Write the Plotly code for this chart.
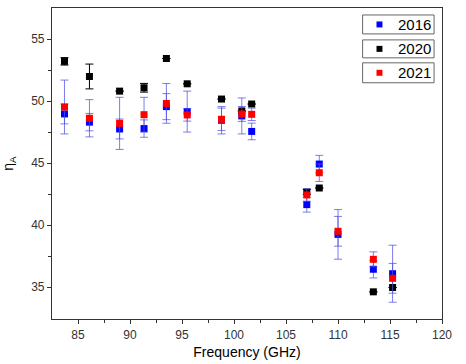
import plotly.graph_objects as go

freq_2016 = [83.7, 86.1, 89.0, 91.35, 93.5, 95.5, 98.8, 100.75, 101.7, 107.0, 108.2, 110.0, 113.4, 115.25]
eta_2016 = [48.96, 48.3, 47.75, 47.78, 49.55, 49.15, 48.45, 48.8, 47.55, 41.65, 44.92, 39.25, 36.44, 36.08]
err_2016 = [0.8, 0.7, 0.8, 0.7, 1.05, 1.65, 1.1, 1.45, 0.67, 0.6, 0.7, 2.0, 0.7, 2.3]

freq_2020 = [83.7, 86.1, 89.0, 91.35, 93.5, 95.5, 98.8, 100.75, 101.7, 107.0, 108.2, 113.4, 115.25]
eta_2020 = [53.2, 51.98, 50.8, 51.07, 53.43, 51.39, 50.16, 49.2, 49.76, 42.67, 42.99, 34.62, 34.97]
err_2020 = [0.3, 1.0, 0.0, 0.35, 0.0, 0.0, 0.0, 0.0, 0.0, 0.2, 0.0, 0.0, 0.0]

freq_2021 = [83.7, 86.1, 89.0, 91.35, 93.5, 95.5, 98.8, 100.75, 101.7, 107.0, 108.2, 110.0, 113.4, 115.25]
eta_2021 = [49.52, 48.61, 48.2, 48.9, 49.81, 48.88, 48.53, 48.96, 48.93, 42.43, 44.22, 39.5, 37.24, 35.71]
err_2021 = [2.17, 1.5, 2.1, 1.4, 1.6, 0.5, 0.9, 0.6, 0.5, 0.5, 0.7, 1.2, 0.6, 1.2]

years = ["2016", "2020", "2021"]
colors = ["#0000ff", "#000000", "#ff0000"]
err_colors = ["rgba(80,80,230,0.75)", "#000000", "rgba(80,80,230,0.75)"]

fig = go.Figure()
series = [(freq_2016, eta_2016, err_2016), (freq_2020, eta_2020, err_2020), (freq_2021, eta_2021, err_2021)]
for (fx, fy, fe), name, c, ec in zip(series, years, colors, err_colors):
    fig.add_trace(go.Scatter(
        x=fx, y=fy, mode="markers", name=name, showlegend=False,
        marker=dict(symbol="square", size=7, color=c, line=dict(width=0)),
        error_y=dict(type="data", array=fe, visible=True, color=ec, thickness=1, width=4),
    ))

font = "Liberation Sans, Arial, sans-serif"
L, R, T, B = 49, 442, 7, 319
W, H = R - L, B - T
fig.update_layout(
    width=466, height=364,
    margin=dict(l=L, r=466 - R, t=T, b=364 - B),
    paper_bgcolor="white", plot_bgcolor="white",
    font=dict(family=font, size=12, color="#222"),
    xaxis=dict(range=[82.5, 120], tickmode="array", tickvals=[85, 90, 95, 100, 105, 110, 115, 120],
               ticks="outside", ticklen=4, tickcolor="#333", showline=True, linecolor="#333",
               linewidth=1.2, mirror=True, showgrid=False, zeroline=False,
               minor=dict(tickvals=[87.5, 92.5, 97.5, 102.5, 107.5, 112.5, 117.5], ticks="outside", ticklen=3, tickcolor="#333"),
               title=dict(text="Frequency (GHz)", font=dict(size=14, color="black"), standoff=6),
               tickfont=dict(size=12, color="#333")),
    yaxis=dict(range=[32.43, 57.5], tickmode="array", tickvals=[35, 40, 45, 50, 55],
               ticks="outside", ticklen=4, tickcolor="#333", showline=True, linecolor="#333",
               linewidth=1.2, mirror=True, showgrid=False, zeroline=False,
               minor=dict(tickvals=[37.5, 42.5, 47.5, 52.5], ticks="outside", ticklen=3, tickcolor="#333"),
               title=dict(text="η<sub>A</sub>", font=dict(size=14, color="black"), standoff=14),
               tickfont=dict(size=12, color="#333")),
)

def px(x):
    return (x - L) / W

def py(y):
    return 1 - (y - T) / H

# three separate legend frames with marker and label
for (y0, y1), name, c in zip([(14, 33), (39, 57), (62, 82)], years, colors):
    fig.add_shape(type="rect", xref="paper", yref="paper",
                  x0=px(362), x1=px(434), y0=py(y1), y1=py(y0),
                  line=dict(color="#666", width=1), fillcolor="white")
    cy = (y0 + y1) / 2
    fig.add_shape(type="rect", xref="paper", yref="paper",
                  x0=px(376), x1=px(382), y0=py(cy + 3), y1=py(cy - 3),
                  line=dict(width=0), fillcolor=c)
    fig.add_annotation(xref="paper", yref="paper", x=px(414), y=py(cy), text=name,
                       showarrow=False, xanchor="center", yanchor="middle",
                       font=dict(size=15, color="black", family=font))

fig.write_html("out.html", config={"displayModeBar": False},
               post_script="document.body.style.margin='0';document.body.style.padding='0';")
